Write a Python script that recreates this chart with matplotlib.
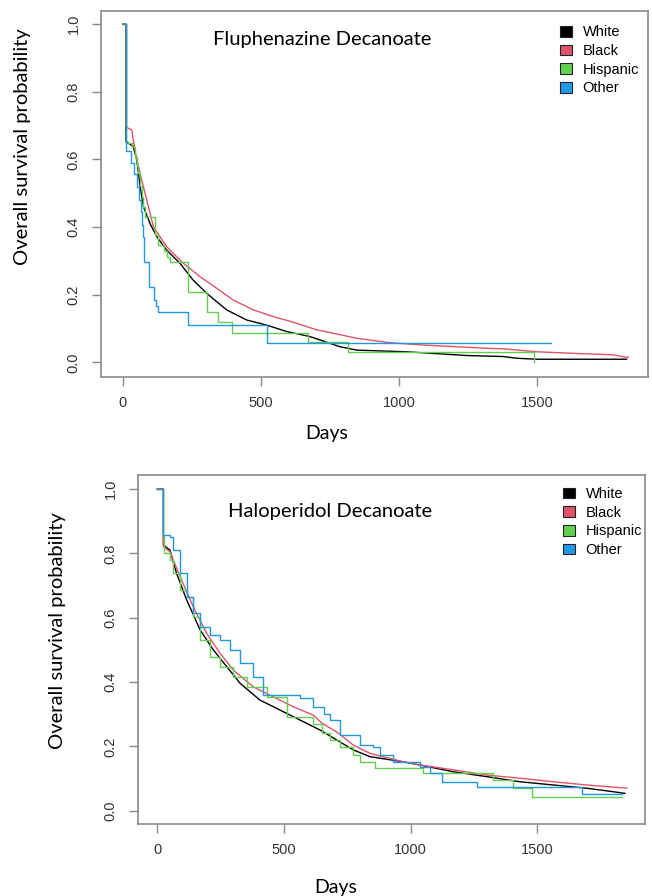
import matplotlib
matplotlib.use("Agg")
import matplotlib.pyplot as plt
from matplotlib.patches import Patch

# Fluphenazine Decanoate panel
flu_white_t = [0, 12, 12, 38, 51, 63, 75, 99, 123, 159, 207, 255, 304, 376, 449, 521, 593, 678, 750, 786, 847, 1028, 1148, 1245, 1377, 1425, 1498, 1823]
flu_white_s = [1.0, 1.0, 0.653, 0.638, 0.598, 0.52, 0.46, 0.41, 0.372, 0.332, 0.293, 0.243, 0.204, 0.155, 0.125, 0.110, 0.091, 0.076, 0.056, 0.046, 0.036, 0.031, 0.025, 0.02, 0.017, 0.012, 0.009, 0.009]
flu_black_t = [0, 14, 14, 33, 38, 51, 69, 87, 111, 159, 219, 280, 340, 400, 473, 545, 611, 702, 750, 847, 967, 1088, 1208, 1329, 1377, 1498, 1618, 1775, 1817, 1830]
flu_black_s = [1.0, 1.0, 0.695, 0.687, 0.658, 0.598, 0.539, 0.48, 0.401, 0.342, 0.293, 0.253, 0.219, 0.184, 0.155, 0.135, 0.12, 0.096, 0.088, 0.071, 0.058, 0.051, 0.046, 0.041, 0.040, 0.031, 0.027, 0.022, 0.015, 0.015]
flu_hisp_t = [0, 12, 33, 45, 51, 57, 63, 69, 75, 81, 117, 129, 150, 160, 171, 238, 306, 346, 394, 672, 816, 1487]
flu_hisp_s = [1.0, 0.65, 0.638, 0.608, 0.58, 0.559, 0.52, 0.49, 0.46, 0.431, 0.377, 0.347, 0.33, 0.31, 0.298, 0.209, 0.150, 0.12, 0.088, 0.06, 0.031, 0.0]
flu_other_t = [0, 13, 30, 40, 50, 58, 65, 70, 74, 78, 95, 114, 120, 128, 235, 521, 1550]
flu_other_s = [1.0, 0.625, 0.59, 0.556, 0.519, 0.481, 0.444, 0.407, 0.37, 0.296, 0.222, 0.185, 0.167, 0.148, 0.111, 0.056, 0.056]

# Haloperidol Decanoate panel
hal_white_t = [0, 24, 24, 50, 76, 116, 169, 221, 274, 327, 405, 484, 563, 642, 708, 774, 840, 971, 1037, 1169, 1300, 1432, 1563, 1695, 1800, 1846]
hal_white_s = [1.0, 1.0, 0.826, 0.81, 0.738, 0.655, 0.562, 0.50, 0.448, 0.396, 0.344, 0.313, 0.282, 0.251, 0.22, 0.189, 0.168, 0.152, 0.142, 0.121, 0.106, 0.09, 0.08, 0.07, 0.059, 0.054]
hal_black_t = [0, 24, 24, 50, 90, 142, 195, 248, 300, 379, 458, 537, 616, 650, 708, 774, 840, 971, 1037, 1169, 1300, 1432, 1563, 1695, 1853]
hal_black_s = [1.0, 1.0, 0.82, 0.805, 0.727, 0.634, 0.551, 0.489, 0.437, 0.385, 0.354, 0.323, 0.297, 0.272, 0.245, 0.204, 0.178, 0.152, 0.142, 0.127, 0.111, 0.101, 0.09, 0.08, 0.07]
hal_hisp_t = [0, 24, 27, 50, 63, 90, 116, 142, 169, 208, 248, 300, 353, 432, 511, 616, 650, 682, 721, 774, 800, 859, 1050, 1327, 1406, 1478, 1833]
hal_hisp_s = [1.0, 0.857, 0.80, 0.78, 0.738, 0.686, 0.665, 0.603, 0.531, 0.479, 0.448, 0.417, 0.385, 0.354, 0.292, 0.27, 0.241, 0.22, 0.199, 0.173, 0.152, 0.132, 0.116, 0.095, 0.07, 0.044, 0.044]
hal_other_t = [0, 24, 50, 63, 90, 116, 142, 169, 208, 248, 287, 327, 379, 418, 563, 616, 660, 682, 721, 800, 853, 879, 932, 1037, 1077, 1123, 1261, 1675, 1833]
hal_other_s = [1.0, 0.857, 0.852, 0.81, 0.738, 0.665, 0.614, 0.572, 0.546, 0.531, 0.50, 0.458, 0.417, 0.36, 0.35, 0.323, 0.300, 0.282, 0.235, 0.204, 0.199, 0.173, 0.152, 0.137, 0.116, 0.09, 0.073, 0.052, 0.052]

groups = ["White", "Black", "Hispanic", "Other"]
colors = ["#000000", "#DF536B", "#61D04F", "#2297E6"]
x_ticks = [0, 500, 1000, 1500]
y_ticks = [0.0, 0.2, 0.4, 0.6, 0.8, 1.0]

W, H = 652, 896
fig = plt.figure(figsize=(W / 100, H / 100), dpi=100)

label_font = "Lato"
tick_font = "Liberation Sans"


def setup(ax, xlim, ylim):
    ax.set_xlim(*xlim)
    ax.set_ylim(*ylim)
    ax.set_xticks(x_ticks)
    ax.set_yticks(y_ticks)
    ax.set_xticklabels([str(v) for v in x_ticks], family=tick_font, fontsize=10.5, color="#333333")
    ax.set_yticklabels(["%.1f" % v for v in y_ticks], family=tick_font, fontsize=10.5, color="#333333",
                       rotation=90, va="center")
    for sp in ax.spines.values():
        sp.set_color("#8a8a8a")
        sp.set_linewidth(1.2)
    ax.tick_params(axis="both", direction="out", length=6.5, width=1.0, color="#8a8a8a")
    ax.tick_params(axis="x", pad=7)
    ax.tick_params(axis="y", pad=8)


def px(x, y):
    return x / W, 1 - y / H


# top panel
ax1 = fig.add_axes([101 / W, 1 - 377 / H, (648 - 101) / W, (377 - 11) / H])
ax1.plot(flu_white_t, flu_white_s, color=colors[0], lw=1.0)
ax1.plot(flu_black_t, flu_black_s, color=colors[1], lw=1.0)
ax1.step(flu_hisp_t, flu_hisp_s, where="post", color=colors[2], lw=1.0)
ax1.step(flu_other_t, flu_other_s, where="post", color=colors[3], lw=1.0)
setup(ax1, (-78.5, 1900.5), (-0.0435, 1.039))

# bottom panel
ax2 = fig.add_axes([137.7 / W, 1 - 824 / H, (645 - 137.7) / W, (824 - 475) / H])
ax2.plot(hal_white_t, hal_white_s, color=colors[0], lw=1.0)
ax2.plot(hal_black_t, hal_black_s, color=colors[1], lw=1.0)
ax2.step(hal_hisp_t, hal_hisp_s, where="post", color=colors[2], lw=1.0)
ax2.step(hal_other_t, hal_other_s, where="post", color=colors[3], lw=1.0)
setup(ax2, (-77.4, 1925.4), (-0.0413, 1.0435))

handles = [Patch(facecolor=c, edgecolor="#222222", linewidth=0.8) for c in colors]
for ax, (lx, ly) in [(ax1, (560, 25.5)), (ax2, (563, 487)), ]:
    ax.legend(handles, groups, loc="upper left", bbox_to_anchor=px(lx, ly),
              bbox_transform=fig.transFigure, frameon=False, borderpad=0, borderaxespad=0,
              handlelength=0.8, handleheight=0.75, handletextpad=0.75, labelspacing=0.32,
              prop={"family": tick_font, "size": 10.5})

# titles inside panels
fig.text(*px(213, 40), "Fluphenazine Decanoate", family=label_font, fontsize=14.5, va="center", ha="left")
fig.text(*px(228, 512), "Haloperidol Decanoate", family=label_font, fontsize=14.5, va="center", ha="left")

# axis labels
fig.text(*px(23, 147), "Overall survival probability", family=label_font, fontsize=14.5,
         rotation=90, va="center", ha="center")
fig.text(*px(57, 631), "Overall survival probability", family=label_font, fontsize=14.5,
         rotation=90, va="center", ha="center")
fig.text(*px(327, 433), "Days", family=label_font, fontsize=14, va="center", ha="center")
fig.text(*px(336, 887), "Days", family=label_font, fontsize=14, va="center", ha="center")

fig.savefig("out.png", dpi=100)
